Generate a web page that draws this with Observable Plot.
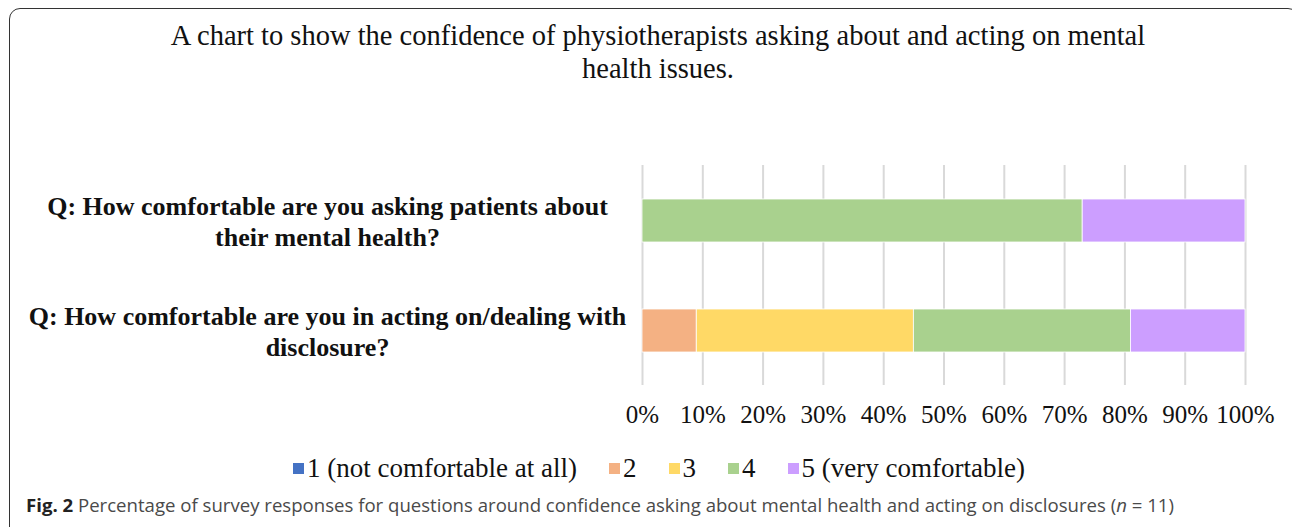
<!DOCTYPE html>
<html>
<head>
<meta charset="utf-8">
<script src="https://cdn.jsdelivr.net/npm/d3@7"></script>
<script src="https://cdn.jsdelivr.net/npm/@observablehq/plot@0.6"></script>
<style>
  html, body { margin: 0; padding: 0; background: #fff; }
  #page { position: relative; width: 1292px; height: 527px; overflow: hidden; background: #fff; }
  #frame { position: absolute; left: 9px; top: 8px; width: 1290px; height: 530px; border: 1.5px solid #333; border-radius: 11px; box-sizing: border-box; }
  #title { position: absolute; left: 0; width: 1316px; top: 19px; text-align: center; font-family: "Liberation Serif", serif; font-size: 28.5px; line-height: 33px; color: #111; }
  #chart { position: absolute; left: 0; top: 140px; }
  #legend { position: absolute; left: 0; width: 1318px; top: 453px; display: flex; justify-content: center; font-family: "Liberation Serif", serif; font-size: 27px; color: #111; }
  #legend .item { display: flex; align-items: center; margin: 0 16px; }
  #legend .sw { width: 11px; height: 11px; margin-right: 3px; }
  #caption { position: absolute; left: 26px; top: 492px; font-family: "Open Sans", sans-serif; font-size: 18.6px; color: #4a4a4a; white-space: nowrap; }
  #caption b { color: #222; }
</style>
</head>
<body>
<div id="page">
  <div id="frame"></div>
  <div id="title">A chart to show the confidence of physiotherapists asking about and acting on mental<br>health issues.</div>
  <div id="chart"></div>
  <div id="legend"></div>
  <div id="caption"><b>Fig. 2</b> Percentage of survey responses for questions around confidence asking about mental health and acting on disclosures (<i>n</i> = 11)</div>
</div>
<script>
// Data
const questions = [
  "Q: How comfortable are you asking patients about\ntheir mental health?",
  "Q: How comfortable are you in acting on/dealing with\ndisclosure?"
];
const levels = ["1 (not comfortable at all)", "2", "3", "4", "5 (very comfortable)"];
const q1Values = [0, 0, 0, 73, 27];
const q2Values = [0, 9, 36, 36, 19];
const levelColors = ["#4472c4", "#f4b183", "#ffd966", "#a9d18e", "#cc9eff"];
const xTicks = [0, 10, 20, 30, 40, 50, 60, 70, 80, 90, 100];

const rows = [];
[q1Values, q2Values].forEach((vals, qi) => {
  vals.forEach((v, li) => rows.push({question: questions[qi], level: levels[li], value: v}));
});

const chart = Plot.plot({
  width: 1292,
  height: 300,
  marginLeft: 642,
  marginRight: 47,
  marginTop: 25,
  marginBottom: 55,
  style: {fontFamily: "Liberation Serif, serif", fontSize: "25px", color: "#111", background: "transparent"},
  x: {domain: [0, 100], label: null},
  y: {domain: questions, paddingInner: 0.61, paddingOuter: 0.305, axis: null, label: null},
  color: {domain: levels, range: levelColors},
  marks: [
    Plot.gridX(xTicks, {stroke: "#d9d9d9", strokeOpacity: 1, strokeWidth: 2}),
    Plot.barX(rows, Plot.stackX({y: "question", x: "value", fill: "level", order: levels, stroke: "#fff", strokeWidth: 0.8})),
    Plot.axisX(xTicks, {tickSize: 0, tickPadding: 20, tickFormat: d => d + "%", fontSize: 25, label: null}),
    Plot.text(questions, {y: d => d, text: d => d, frameAnchor: "left", dx: -315, textAnchor: "middle", lineHeight: 1.18, fontSize: 26, fontWeight: "bold", fill: "#111"})
  ]
});
document.getElementById("chart").appendChild(chart);

const legend = document.getElementById("legend");
levels.forEach((lv, i) => {
  const item = document.createElement("div");
  item.className = "item";
  const sw = document.createElement("span");
  sw.className = "sw";
  sw.style.background = levelColors[i];
  const t = document.createElement("span");
  t.textContent = lv;
  item.appendChild(sw);
  item.appendChild(t);
  legend.appendChild(item);
});
</script>
</body>
</html>
